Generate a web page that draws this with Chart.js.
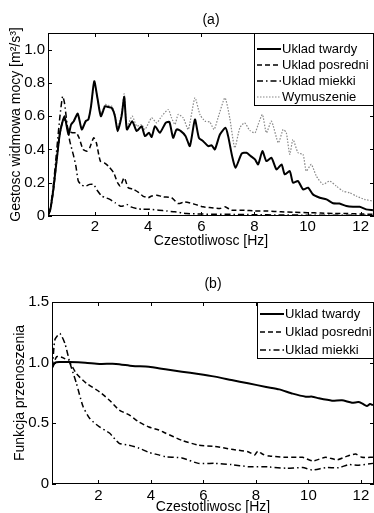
<!DOCTYPE html>
<html>
<head>
<meta charset="utf-8">
<script src="https://cdn.jsdelivr.net/npm/chart.js@4.4.0/dist/chart.umd.min.js"></script>
<style>
  body { margin: 0; background: #fff; overflow: hidden; }
  #wykres1 { position: absolute; left: 0; top: 0; }
  #wykres2 { position: absolute; left: 0; top: 250px; }
</style>
</head>
<body>
<canvas id="wykres1" width="374" height="250"></canvas>
<canvas id="wykres2" width="374" height="270"></canvas>
<script>
// (a) gestosc widmowa mocy
var twardyX = [0.25, 0.32, 0.43, 0.56, 0.68, 0.85, 1.0, 1.1, 1.2, 1.35, 1.5, 1.65, 1.75, 1.85, 1.97, 2.1, 2.22, 2.38, 2.5, 2.63, 2.75, 2.85, 3.0, 3.1, 3.2, 3.4, 3.57, 3.75, 3.88, 4.03, 4.13, 4.26, 4.44, 4.66, 4.8, 4.94, 5.07, 5.23, 5.41, 5.57, 5.76, 5.91, 6.07, 6.26, 6.39, 6.51, 6.7, 6.91, 7.01, 7.16, 7.29, 7.52, 7.7, 7.86, 8.02, 8.14, 8.3, 8.45, 8.64, 8.83, 9.02, 9.14, 9.33, 9.45, 9.64, 9.83, 10.02, 10.2, 10.46, 10.71, 10.96, 11.2, 11.46, 11.71, 11.96, 12.2, 12.46];
var twardyY = [0.01, 0.04, 0.16, 0.34, 0.50, 0.60, 0.49, 0.55, 0.57, 0.615, 0.52, 0.57, 0.58, 0.66, 0.81, 0.70, 0.60, 0.66, 0.655, 0.65, 0.60, 0.51, 0.60, 0.715, 0.52, 0.57, 0.51, 0.54, 0.48, 0.50, 0.475, 0.54, 0.50, 0.56, 0.565, 0.47, 0.52, 0.51, 0.48, 0.42, 0.58, 0.47, 0.45, 0.42, 0.425, 0.40, 0.49, 0.53, 0.48, 0.36, 0.29, 0.375, 0.38, 0.36, 0.34, 0.31, 0.39, 0.33, 0.35, 0.28, 0.31, 0.25, 0.27, 0.20, 0.21, 0.16, 0.17, 0.13, 0.11, 0.10, 0.077, 0.075, 0.06, 0.055, 0.055, 0.04, 0.035];

var posredniX = [0.25, 0.32, 0.43, 0.56, 0.68, 0.8, 0.9, 1.0, 1.15, 1.3, 1.4, 1.55, 1.7, 1.8, 1.95, 2.05, 2.2, 2.35, 2.5, 2.7, 2.85, 2.95, 3.1, 3.25, 3.45, 3.65, 3.8, 4.0, 4.13, 4.32, 4.57, 4.88, 5.13, 5.38, 5.76, 6.07, 6.39, 6.7, 6.89, 7.14, 7.63, 8.0, 8.5, 9.0, 9.5, 10.0, 10.5, 11.0, 11.5, 12.0, 12.46];
var posredniY = [0.01, 0.04, 0.15, 0.34, 0.50, 0.58, 0.57, 0.51, 0.50, 0.50, 0.47, 0.40, 0.39, 0.41, 0.47, 0.44, 0.33, 0.32, 0.30, 0.26, 0.20, 0.18, 0.23, 0.17, 0.16, 0.14, 0.12, 0.11, 0.12, 0.125, 0.115, 0.11, 0.075, 0.085, 0.07, 0.055, 0.05, 0.045, 0.055, 0.035, 0.035, 0.03, 0.03, 0.025, 0.022, 0.02, 0.018, 0.015, 0.015, 0.012, 0.01];

var miekkiX = [0.25, 0.32, 0.43, 0.56, 0.68, 0.78, 0.85, 0.95, 1.05, 1.18, 1.28, 1.37, 1.5, 1.65, 1.8, 1.94, 2.1, 2.25, 2.4, 2.56, 2.75, 2.94, 3.05, 3.19, 3.35, 3.57, 3.8, 4.07, 4.4, 4.7, 5.0, 5.45, 6.0, 6.5, 7.0, 8.0, 9.0, 10.0, 11.0, 12.46];
var miekkiY = [0.01, 0.05, 0.18, 0.40, 0.60, 0.72, 0.68, 0.55, 0.45, 0.37, 0.30, 0.21, 0.185, 0.18, 0.19, 0.19, 0.15, 0.12, 0.11, 0.10, 0.08, 0.06, 0.06, 0.07, 0.055, 0.045, 0.04, 0.04, 0.035, 0.03, 0.025, 0.015, 0.012, 0.01, 0.01, 0.008, 0.006, 0.005, 0.005, 0.004];

var wymuszenieX = [0.25, 0.32, 0.43, 0.56, 0.68, 0.85, 1.0, 1.1, 1.2, 1.35, 1.5, 1.65, 1.75, 1.85, 1.97, 2.1, 2.22, 2.38, 2.5, 2.63, 2.75, 2.85, 3.0, 3.1, 3.2, 3.4, 3.57, 3.75, 3.88, 4.13, 4.32, 4.51, 4.76, 4.88, 5.01, 5.13, 5.32, 5.51, 5.76, 5.95, 6.14, 6.32, 6.48, 6.63, 6.89, 7.07, 7.26, 7.45, 7.63, 7.82, 8.02, 8.14, 8.3, 8.45, 8.64, 8.9, 9.08, 9.2, 9.33, 9.45, 9.64, 9.83, 9.95, 10.14, 10.33, 10.58, 10.83, 11.08, 11.33, 11.58, 11.83, 12.14, 12.46];
var wymuszenieY = [0.01, 0.04, 0.15, 0.33, 0.49, 0.60, 0.50, 0.55, 0.57, 0.61, 0.53, 0.57, 0.58, 0.66, 0.80, 0.70, 0.61, 0.67, 0.665, 0.66, 0.61, 0.53, 0.62, 0.735, 0.54, 0.60, 0.54, 0.55, 0.52, 0.59, 0.56, 0.60, 0.64, 0.59, 0.55, 0.61, 0.59, 0.52, 0.71, 0.61, 0.57, 0.565, 0.52, 0.59, 0.71, 0.59, 0.41, 0.53, 0.56, 0.515, 0.50, 0.55, 0.61, 0.50, 0.57, 0.44, 0.52, 0.50, 0.37, 0.46, 0.38, 0.37, 0.27, 0.31, 0.24, 0.19, 0.21, 0.18, 0.15, 0.14, 0.12, 0.10, 0.09];

// (b) funkcja przenoszenia
var fTwardyX = [0.25, 0.35, 0.5, 0.91, 1.5, 2.04, 2.67, 3.3, 3.92, 4.55, 5.18, 5.81, 6.44, 7.07, 7.7, 8.39, 8.89, 9.4, 9.9, 10.15, 10.4, 10.9, 11.28, 11.66, 11.9, 12.04, 12.23, 12.35, 12.46];
var fTwardyY = [0.97, 1.0, 1.005, 1.005, 1.0, 0.99, 0.99, 0.973, 0.967, 0.945, 0.926, 0.907, 0.885, 0.857, 0.83, 0.80, 0.78, 0.745, 0.72, 0.72, 0.706, 0.687, 0.69, 0.67, 0.675, 0.665, 0.643, 0.66, 0.65];

var fPosredniX = [0.25, 0.41, 0.66, 0.91, 1.16, 1.54, 2.04, 2.42, 2.79, 3.17, 3.55, 3.92, 4.3, 4.55, 5.18, 5.81, 6.44, 7.07, 7.7, 7.95, 8.07, 8.26, 8.52, 9.15, 9.78, 10.16, 10.66, 11.1, 11.48, 11.8, 12.04, 12.46];
var fPosredniY = [0.96, 1.05, 1.04, 1.0, 0.91, 0.83, 0.76, 0.69, 0.61, 0.57, 0.51, 0.47, 0.445, 0.42, 0.36, 0.32, 0.31, 0.286, 0.266, 0.24, 0.27, 0.245, 0.23, 0.22, 0.22, 0.19, 0.22, 0.20, 0.23, 0.247, 0.22, 0.22];

var fMiekkiX = [0.25, 0.34, 0.53, 0.72, 0.91, 1.16, 1.41, 1.67, 2.04, 2.42, 2.79, 3.17, 3.55, 3.92, 4.3, 4.55, 5.18, 5.81, 6.44, 7.07, 7.7, 8.26, 8.52, 9.15, 9.78, 10.16, 10.66, 11.16, 11.54, 11.92, 12.46];
var fMiekkiY = [0.96, 1.19, 1.24, 1.16, 1.0, 0.83, 0.64, 0.54, 0.47, 0.42, 0.335, 0.32, 0.295, 0.26, 0.24, 0.225, 0.215, 0.17, 0.17, 0.16, 0.143, 0.143, 0.14, 0.13, 0.135, 0.115, 0.135, 0.135, 0.16, 0.155, 0.17];

var xTicki = [2, 4, 6, 8, 10, 12];
var yTickiA = [0, 0.2, 0.4, 0.6, 0.8, 1];
var yTickiB = [0, 0.5, 1, 1.5];

var czcionka = 'Liberation Sans, Arial, sans-serif';

function punkty(xs, ys) {
    var p = [];
    for (let i = 0; i < xs.length; i++) {
        p.push({ x: xs[i], y: ys[i] });
    }
    return p;
}

function ustawTicki(lista) {
    return function (skala) {
        skala.ticks = lista.map(function (v) { return { value: v }; });
    };
}

// ramka i ticki do srodka (styl matlaba)
const ramka = {
    id: 'ramka',
    afterDraw(chart) {
        const ctx = chart.ctx;
        const a = chart.chartArea;
        const sx = chart.scales.x;
        const sy = chart.scales.y;
        ctx.save();
        ctx.strokeStyle = '#000';
        ctx.lineWidth = 1;
        ctx.strokeRect(a.left + 0.5, a.top + 0.5, a.right - a.left - 1, a.bottom - a.top - 1);
        ctx.beginPath();
        sx.ticks.forEach(function (t) {
            const px = Math.round(sx.getPixelForValue(t.value)) + 0.5;
            ctx.moveTo(px, a.bottom);
            ctx.lineTo(px, a.bottom - 4);
            ctx.moveTo(px, a.top);
            ctx.lineTo(px, a.top + 4);
        });
        sy.ticks.forEach(function (t) {
            const py = Math.round(sy.getPixelForValue(t.value)) + 0.5;
            ctx.moveTo(a.left, py);
            ctx.lineTo(a.left + 4, py);
            ctx.moveTo(a.right, py);
            ctx.lineTo(a.right - 4, py);
        });
        ctx.stroke();
        ctx.restore();
    }
};

// legenda w ramce, w prawym gornym rogu
const legenda = {
    id: 'legenda',
    afterDraw(chart, args, opts) {
        const ctx = chart.ctx;
        const a = chart.chartArea;
        const zbiory = chart.data.datasets;
        const lewo = opts.lewo;
        const gora = a.top;
        const wys = opts.wiersz * zbiory.length + opts.dol;
        ctx.save();
        ctx.fillStyle = '#fff';
        ctx.fillRect(lewo, gora, a.right - lewo, wys);
        ctx.strokeStyle = '#000';
        ctx.lineWidth = 1;
        ctx.strokeRect(lewo + 0.5, gora + 0.5, a.right - lewo - 1, wys);
        ctx.font = opts.rozmiar + 'px ' + czcionka;
        ctx.textBaseline = 'middle';
        zbiory.forEach(function (d, i) {
            const y = gora + opts.start + i * opts.wiersz;
            ctx.strokeStyle = d.borderColor;
            ctx.lineWidth = d.borderWidth;
            ctx.setLineDash(d.borderDash || []);
            ctx.beginPath();
            ctx.moveTo(lewo + 3, y);
            ctx.lineTo(lewo + 27, y);
            ctx.stroke();
            ctx.setLineDash([]);
            ctx.fillStyle = '#000';
            ctx.fillText(d.label, lewo + 28, y);
        });
        ctx.restore();
    }
};

function opcjeOsi(yMax, yTicki, tytulX, tytulY, tytulGora, szerY, tytulYpad) {
    return {
        responsive: false,
        animation: false,
        layout: { padding: 0 },
        elements: { point: { radius: 0 }, line: { tension: 0.2 } },
        plugins: {
            legend: { display: false },
            tooltip: { enabled: false },
            legenda: { lewo: 0, wiersz: 18, start: 10, dol: 2, rozmiar: 13 }
        },
        scales: {
            x: {
                type: 'linear', min: 0.23, max: 12.5,
                afterBuildTicks: ustawTicki(xTicki),
                afterFit: function (s) { s.height = 34; },
                grid: { display: false, drawTicks: false },
                border: { display: false },
                ticks: { color: '#000', padding: 2, font: { family: czcionka, size: 15 } },
                title: { display: true, text: tytulX, color: '#000', padding: { top: 0, bottom: 0 }, font: { family: czcionka, size: 14 } }
            },
            x2: {
                type: 'linear', position: 'top', min: 0.23, max: 12.5,
                afterFit: function (s) { s.height = 33; },
                grid: { display: false, drawTicks: false },
                border: { display: false },
                ticks: { display: false },
                title: { display: true, text: tytulGora, color: '#000', padding: { top: 12, bottom: 0 }, font: { family: czcionka, size: 14 } }
            },
            y: {
                type: 'linear', min: 0, max: yMax,
                afterBuildTicks: ustawTicki(yTicki),
                afterFit: function (s) { s.width = szerY; },
                grid: { display: false, drawTicks: false },
                border: { display: false },
                ticks: { color: '#000', padding: 3, font: { family: czcionka, size: 15 } },
                title: { display: true, text: tytulY, color: '#000', padding: { top: tytulYpad, bottom: 0 }, font: { family: czcionka, size: 14 } }
            }
        }
    };
}

function zbior(etykieta, xs, ys, kolor, grubosc, kreski) {
    return {
        label: etykieta,
        data: punkty(xs, ys),
        borderColor: kolor,
        backgroundColor: kolor,
        borderWidth: grubosc,
        borderDash: kreski,
        fill: false
    };
}

const opcjeA = opcjeOsi(1.1, yTickiA, 'Czestotliwosc [Hz]', 'Gestosc widmowa mocy [m\u00B2/s\u00B3]', '(a)', 48, 8);
opcjeA.plugins.legenda = { lewo: 254, wiersz: 16, start: 16, dol: 8, rozmiar: 13 };

const wykresA = new Chart(document.getElementById('wykres1'), {
    type: 'line',
    data: {
        datasets: [
            zbior('Uklad twardy', twardyX, twardyY, '#000', 2, []),
            zbior('Uklad posredni', posredniX, posredniY, '#000', 1.5, [5, 3]),
            zbior('Uklad miekki', miekkiX, miekkiY, '#000', 1.5, [6, 3, 1.5, 3]),
            zbior('Wymuszenie', wymuszenieX, wymuszenieY, '#888', 1.2, [1.5, 1.5])
        ]
    },
    options: opcjeA,
    plugins: [ramka, legenda]
});

const opcjeB = opcjeOsi(1.5, yTickiB, 'Czestotliwosc [Hz]', 'Funkcja przenoszenia', '(b)', 52, 12);
opcjeB.scales.x.afterFit = function (s) { s.height = 36; };
opcjeB.scales.x.ticks.padding = 3;
opcjeB.scales.x.title.padding = { top: 0, bottom: 4 };
opcjeB.scales.x2.afterFit = function (s) { s.height = 52; };
opcjeB.scales.x2.title.padding = { top: 26, bottom: 0 };
opcjeB.plugins.legenda = { lewo: 257, wiersz: 18, start: 12, dol: 2, rozmiar: 13 };

const wykresB = new Chart(document.getElementById('wykres2'), {
    type: 'line',
    data: {
        datasets: [
            zbior('Uklad twardy', fTwardyX, fTwardyY, '#000', 2, []),
            zbior('Uklad posredni', fPosredniX, fPosredniY, '#000', 1.5, [5, 3]),
            zbior('Uklad miekki', fMiekkiX, fMiekkiY, '#000', 1.5, [6, 3, 1.5, 3])
        ]
    },
    options: opcjeB,
    plugins: [ramka, legenda]
});
</script>
</body>
</html>
